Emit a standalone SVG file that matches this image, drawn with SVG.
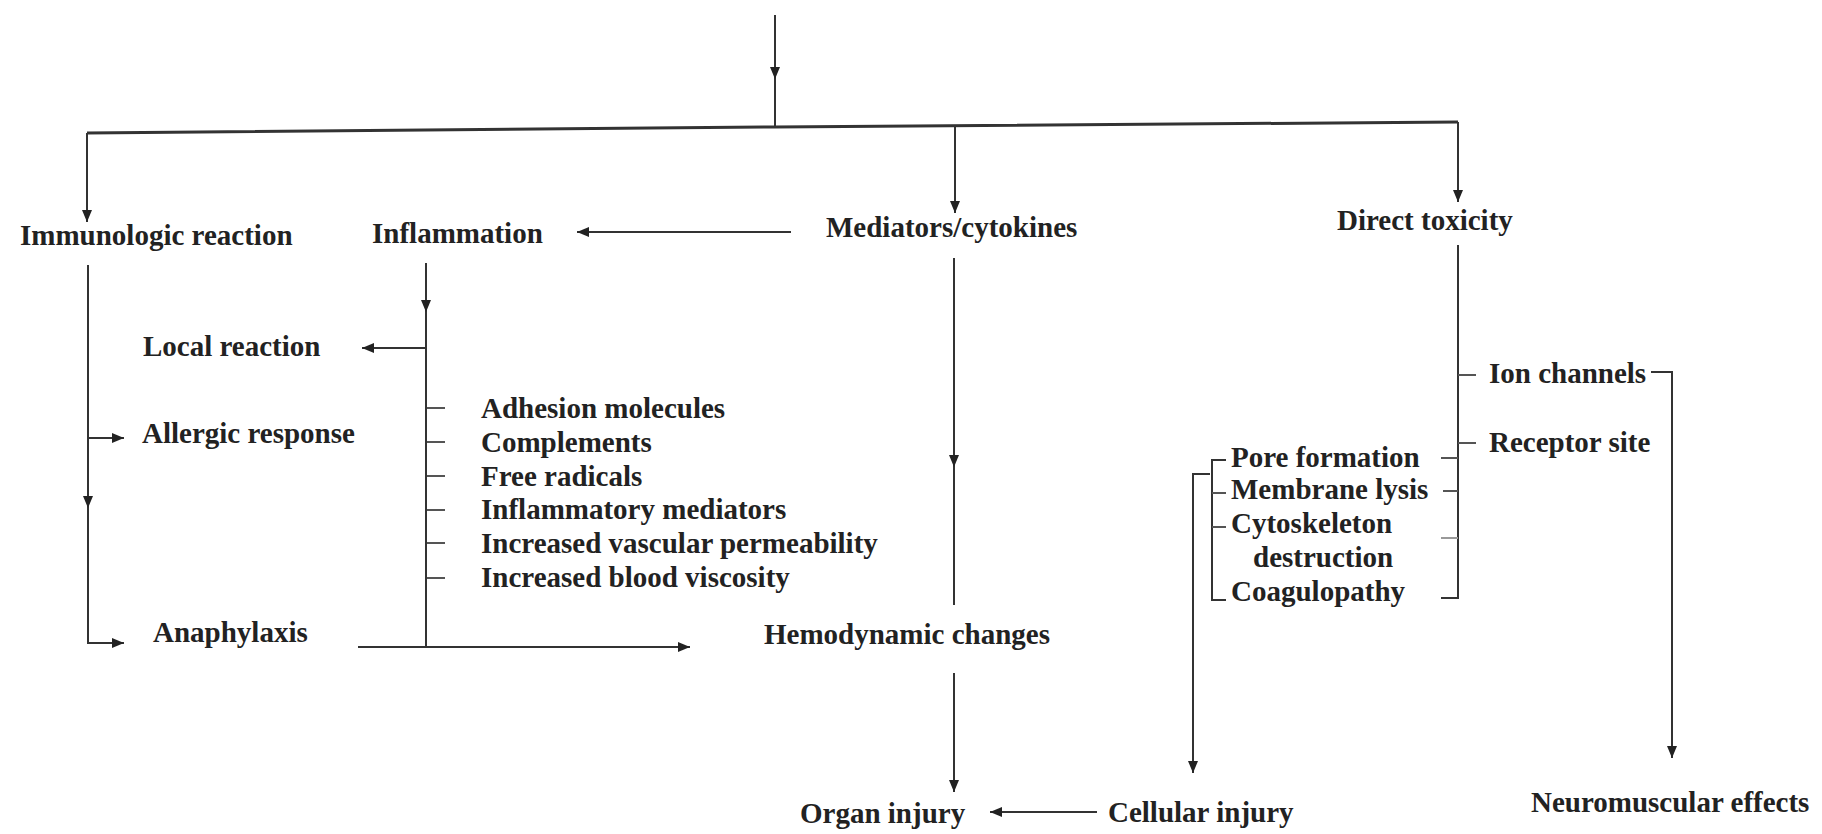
<svg xmlns="http://www.w3.org/2000/svg" width="1822" height="834" viewBox="0 0 1822 834">
<style>
  text { font-family: "Liberation Serif", "Times New Roman", serif; font-weight: bold; font-size: 29px; fill: #222; }
  .ln { stroke: #333; stroke-width: 2; fill: none; }
  .bus { stroke: #333; stroke-width: 3; fill: none; }
  .tk { stroke: #555; stroke-width: 2; fill: none; }
  .ft { stroke: #999; stroke-width: 2; fill: none; }
</style>
<defs>
  <marker id="ah" viewBox="0 0 12 10" refX="12" refY="5" markerUnits="userSpaceOnUse" markerWidth="12" markerHeight="10" orient="auto">
    <path d="M0,0 L12,5 L0,10 z" fill="#222"/>
  </marker>
</defs>
<rect width="1822" height="834" fill="#ffffff"/>

<g id="connectors">
  <!-- top -->
  <line class="ln" x1="775" y1="15" x2="775" y2="79" marker-end="url(#ah)"/>
  <line class="ln" x1="775" y1="79" x2="775" y2="127"/>
  <polyline class="bus" points="87,133 775,127 1458,122"/>
  <line class="ln" x1="87" y1="133" x2="87" y2="222" marker-end="url(#ah)"/>
  <line class="ln" x1="955" y1="127" x2="955" y2="213" marker-end="url(#ah)"/>
  <line class="ln" x1="1458" y1="122" x2="1458" y2="202" marker-end="url(#ah)"/>
  <!-- mediators -> inflammation -->
  <line class="ln" x1="791" y1="232" x2="577" y2="232" marker-end="url(#ah)"/>
  <!-- immunologic branch -->
  <line class="ln" x1="88" y1="265" x2="88" y2="508" marker-end="url(#ah)"/>
  <polyline class="ln" points="88,508 88,643 124,643" marker-end="url(#ah)"/>
  <line class="ln" x1="88" y1="438" x2="124" y2="438" marker-end="url(#ah)"/>
  <!-- inflammation branch -->
  <line class="ln" x1="426" y1="263" x2="426" y2="312" marker-end="url(#ah)"/>
  <line class="ln" x1="426" y1="312" x2="426" y2="648"/>
  <line class="ln" x1="426" y1="348" x2="362" y2="348" marker-end="url(#ah)"/>
  <line class="tk" x1="427" y1="408" x2="445" y2="408"/>
  <line class="tk" x1="427" y1="442" x2="445" y2="442"/>
  <line class="tk" x1="427" y1="476" x2="445" y2="476"/>
  <line class="tk" x1="427" y1="510" x2="445" y2="510"/>
  <line class="tk" x1="427" y1="543" x2="445" y2="543"/>
  <line class="tk" x1="427" y1="578" x2="445" y2="578"/>
  <line class="ln" x1="358" y1="647" x2="690" y2="647" marker-end="url(#ah)"/>
  <!-- mediators down -->
  <line class="ln" x1="954" y1="258" x2="954" y2="467" marker-end="url(#ah)"/>
  <line class="ln" x1="954" y1="467" x2="954" y2="605"/>
  <line class="ln" x1="954" y1="673" x2="954" y2="792" marker-end="url(#ah)"/>
  <!-- direct toxicity -->
  <polyline class="ln" points="1458,245 1458,598 1441,598"/>
  <line class="tk" x1="1458" y1="375" x2="1476" y2="375"/>
  <line class="tk" x1="1458" y1="443" x2="1476" y2="443"/>
  <line class="tk" x1="1441" y1="458" x2="1458" y2="458"/>
  <line class="tk" x1="1443" y1="491" x2="1458" y2="491"/>
  <line class="ft" x1="1441" y1="538" x2="1458" y2="538"/>
  <!-- ion channels to neuromuscular -->
  <polyline class="ln" points="1651,372 1672,372 1672,758" marker-end="url(#ah)"/>
  <!-- left bracket -->
  <polyline class="ln" points="1226,460 1212,460 1212,600 1226,600"/>
  <line class="tk" x1="1212" y1="493" x2="1226" y2="493"/>
  <line class="tk" x1="1212" y1="527" x2="1226" y2="527"/>
  <polyline class="ln" points="1210,474 1193,474 1193,773" marker-end="url(#ah)"/>
  <!-- cellular -> organ -->
  <line class="ln" x1="1097" y1="812" x2="990" y2="812" marker-end="url(#ah)"/>
</g>

<g id="immunologic"><text x="20" y="245">Immunologic reaction</text></g>
<g id="inflammation"><text x="372" y="243">Inflammation</text></g>
<g id="mediators"><text x="826" y="237">Mediators/cytokines</text></g>
<g id="direct-toxicity"><text x="1337" y="230">Direct toxicity</text></g>
<g id="local-reaction"><text x="143" y="356">Local reaction</text></g>
<g id="allergic-response"><text x="142" y="443">Allergic response</text></g>
<g id="anaphylaxis"><text x="153" y="642">Anaphylaxis</text></g>
<g id="inflammation-list">
  <text x="481" y="418">Adhesion molecules</text>
  <text x="481" y="452">Complements</text>
  <text x="481" y="486">Free radicals</text>
  <text x="481" y="519">Inflammatory mediators</text>
  <text x="481" y="553">Increased vascular permeability</text>
  <text x="481" y="587">Increased blood viscosity</text>
</g>
<g id="hemodynamic"><text x="764" y="644">Hemodynamic changes</text></g>
<g id="ion-channels"><text x="1489" y="383">Ion channels</text></g>
<g id="receptor-site"><text x="1489" y="452">Receptor site</text></g>
<g id="pore-formation"><text x="1231" y="467">Pore formation</text></g>
<g id="membrane-lysis"><text x="1231" y="499">Membrane lysis</text></g>
<g id="cytoskeleton"><text x="1231" y="533">Cytoskeleton</text><text x="1253" y="567">destruction</text></g>
<g id="coagulopathy"><text x="1231" y="601">Coagulopathy</text></g>
<g id="organ-injury"><text x="800" y="823">Organ injury</text></g>
<g id="cellular-injury"><text x="1108" y="822">Cellular injury</text></g>
<g id="neuromuscular"><text x="1531" y="812">Neuromuscular effects</text></g>
</svg>
